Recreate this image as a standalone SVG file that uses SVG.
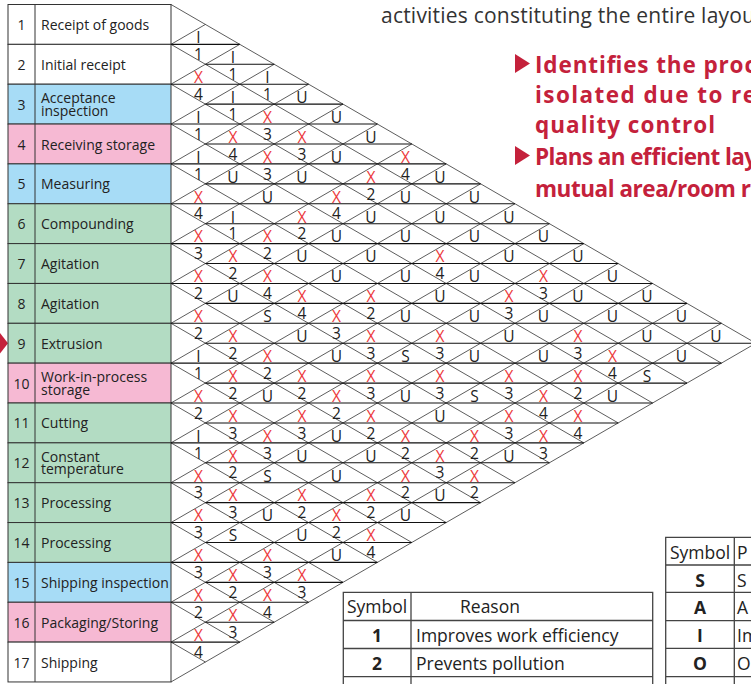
<svg xmlns="http://www.w3.org/2000/svg" width="751" height="684" viewBox="0 0 751 684">
<style>
.lab{font-family:"Open Sans","Noto Sans",sans-serif;font-size:14px;fill:#222}
.num{font-family:"Open Sans","Noto Sans",sans-serif;font-size:14px;fill:#222;text-anchor:middle}
.t{font-family:"Open Sans","Noto Sans",sans-serif;font-size:15.5px;fill:#222;text-anchor:middle}
.x{font-family:"Open Sans","Noto Sans",sans-serif;font-size:15.5px;fill:#ec3a3c;text-anchor:middle}
.cell{stroke:#333;stroke-width:1}
.w{fill:#ffffff}.b{fill:#a7dcf6}.p{fill:#f6b9d3}.g{fill:#b3dcc3}
.diag{fill:none;stroke:#333;stroke-width:0.8}
.hor{fill:none;stroke:#111;stroke-width:1.1}
.red{font-family:"Open Sans","Noto Sans",sans-serif;font-size:22.5px;font-weight:bold;fill:#c4213b}
.top{font-family:"Open Sans","Noto Sans",sans-serif;font-size:21px;fill:#333}
.tb{font-family:"Open Sans","Noto Sans",sans-serif;font-size:17.5px;fill:#222}
.tbb{font-family:"Open Sans","Noto Sans",sans-serif;font-size:17.5px;font-weight:bold;fill:#222;text-anchor:middle}
.tl{fill:none;stroke:#444;stroke-width:1.3}
</style>

<text class="top" x="381" y="22.7" textLength="374" lengthAdjust="spacing">activities constituting the entire layou</text>
<g id="notes">
<polygon points="515,54 530,63.5 515,73" fill="#c4213b"/>
<text class="red" x="535" y="72.7" textLength="221" lengthAdjust="spacing">Identifies the proc</text>
<text class="red" x="535" y="102.7" textLength="221" lengthAdjust="spacing">isolated due to re</text>
<text class="red" x="535" y="133" textLength="180" lengthAdjust="spacing">quality control</text>
<polygon points="515,146 530,155.5 515,165" fill="#c4213b"/>
<text class="red" x="535" y="165" textLength="222" lengthAdjust="spacing">Plans an efficient lay</text>
<text class="red" x="535" y="196.7" textLength="216" lengthAdjust="spacing">mutual area/room r</text>
</g>

<polygon id="marker-9" points="0,333 8,343.2 0,353.4" fill="#c4213b"/>

<g id="processes">
<g id="p1"><rect class="cell w" x="8" y="4.5" width="163" height="39.85"/><text class="num" x="21.5" y="29.9">1</text><text class="lab" x="41" y="29.9">Receipt of goods</text></g>
<g id="p2"><rect class="cell w" x="8" y="44.35" width="163" height="39.85"/><text class="num" x="21.5" y="69.8">2</text><text class="lab" x="41" y="69.8">Initial receipt</text></g>
<g id="p3"><rect class="cell b" x="8" y="84.2" width="163" height="39.85"/><text class="num" x="21.5" y="109.6">3</text><text class="lab" x="41" y="103.1">Acceptance</text><text class="lab" x="41" y="115.6">inspection</text></g>
<g id="p4"><rect class="cell p" x="8" y="124.05" width="163" height="39.85"/><text class="num" x="21.5" y="149.5">4</text><text class="lab" x="41" y="149.5">Receiving storage</text></g>
<g id="p5"><rect class="cell b" x="8" y="163.9" width="163" height="39.85"/><text class="num" x="21.5" y="189.3">5</text><text class="lab" x="41" y="189.3">Measuring</text></g>
<g id="p6"><rect class="cell g" x="8" y="203.75" width="163" height="39.85"/><text class="num" x="21.5" y="229.2">6</text><text class="lab" x="41" y="229.2">Compounding</text></g>
<g id="p7"><rect class="cell g" x="8" y="243.6" width="163" height="39.85"/><text class="num" x="21.5" y="269">7</text><text class="lab" x="41" y="269">Agitation</text></g>
<g id="p8"><rect class="cell g" x="8" y="283.45" width="163" height="39.85"/><text class="num" x="21.5" y="308.9">8</text><text class="lab" x="41" y="308.9">Agitation</text></g>
<g id="p9"><rect class="cell g" x="8" y="323.3" width="163" height="39.85"/><text class="num" x="21.5" y="348.7">9</text><text class="lab" x="41" y="348.7">Extrusion</text></g>
<g id="p10"><rect class="cell p" x="8" y="363.15" width="163" height="39.85"/><text class="num" x="21.5" y="388.6">10</text><text class="lab" x="41" y="382.1">Work-in-process</text><text class="lab" x="41" y="394.6">storage</text></g>
<g id="p11"><rect class="cell g" x="8" y="403" width="163" height="39.85"/><text class="num" x="21.5" y="428.4">11</text><text class="lab" x="41" y="428.4">Cutting</text></g>
<g id="p12"><rect class="cell g" x="8" y="442.85" width="163" height="39.85"/><text class="num" x="21.5" y="468.3">12</text><text class="lab" x="41" y="461.8">Constant</text><text class="lab" x="41" y="474.3">temperature</text></g>
<g id="p13"><rect class="cell g" x="8" y="482.7" width="163" height="39.85"/><text class="num" x="21.5" y="508.1">13</text><text class="lab" x="41" y="508.1">Processing</text></g>
<g id="p14"><rect class="cell g" x="8" y="522.55" width="163" height="39.85"/><text class="num" x="21.5" y="548">14</text><text class="lab" x="41" y="548">Processing</text></g>
<g id="p15"><rect class="cell b" x="8" y="562.4" width="163" height="39.85"/><text class="num" x="21.5" y="587.8">15</text><text class="lab" x="41" y="587.8">Shipping inspection</text></g>
<g id="p16"><rect class="cell p" x="8" y="602.25" width="163" height="39.85"/><text class="num" x="21.5" y="627.7">16</text><text class="lab" x="41" y="627.7">Packaging/Storing</text></g>
<g id="p17"><rect class="cell w" x="8" y="642.1" width="163" height="39.85"/><text class="num" x="21.5" y="667.5">17</text><text class="lab" x="41" y="667.5">Shipping</text></g>
<line x1="35" y1="4.5" x2="35" y2="681.95" stroke="#333" stroke-width="1"/>
</g>

<g id="connectors">
<path class="diag" d="M171,4.5 L755.8,343.225 L171,681.95
M171,44.35 L721.4,363.15 M171,84.2 L687,383.075 M171,124.05 L652.6,403 M171,163.9 L618.2,422.925
M171,203.75 L583.8,442.85 M171,243.6 L549.4,462.775 M171,283.45 L515,482.7 M171,323.3 L480.6,502.625
M171,363.15 L446.2,522.55 M171,403 L411.8,542.475 M171,442.85 L377.4,562.4 M171,482.7 L343,582.325
M171,522.55 L308.6,602.25 M171,562.4 L274.2,622.175 M171,602.25 L239.8,642.1 M171,642.1 L205.4,662.025
M171,44.35 L205.4,24.425 M171,84.2 L239.8,44.35 M171,124.05 L274.2,64.275 M171,163.9 L308.6,84.2
M171,203.75 L343,104.125 M171,243.6 L377.4,124.05 M171,283.45 L411.8,143.975 M171,323.3 L446.2,163.9
M171,363.15 L480.6,183.825 M171,403 L515,203.75 M171,442.85 L549.4,223.675 M171,482.7 L583.8,243.6
M171,522.55 L618.2,263.525 M171,562.4 L652.6,283.45 M171,602.25 L687,303.375 M171,642.1 L721.4,323.3"/>
<path class="hor" d="M171,44.35H239.8 M205.4,64.275H274.2 M171,84.2H308.6 M205.4,104.125H343 M171,124.05H377.4
M205.4,143.975H411.8 M171,163.9H446.2 M205.4,183.825H480.6 M171,203.75H515 M205.4,223.675H549.4
M171,243.6H583.8 M205.4,263.525H618.2 M171,283.45H652.6 M205.4,303.375H687 M171,323.3H721.4
M205.4,343.225H755.8 M171,363.15H721.4 M205.4,383.075H687 M171,403H652.6 M205.4,422.925H618.2
M171,442.85H583.8 M205.4,462.775H549.4 M171,482.7H515 M205.4,502.625H480.6 M171,522.55H446.2
M205.4,542.475H411.8 M171,562.4H377.4 M205.4,582.325H343 M171,602.25H308.6 M205.4,622.175H274.2
M171,642.1H239.8"/>
</g>

<g id="ratings">
<text class="t" x="198.5" y="43.2">I</text>
<text class="t" x="198.5" y="60">1</text><text class="t" x="233" y="63.1">I</text>
<text class="x" x="198.5" y="83">X</text><text class="t" x="233" y="79.9">1</text><text class="t" x="267.5" y="83">I</text>
<text class="t" x="198.5" y="99.8">4</text><text class="t" x="233" y="102.9">I</text><text class="t" x="267.5" y="99.8">1</text><text class="t" x="302" y="102.9">U</text>
<text class="t" x="198.5" y="122.9">I</text><text class="t" x="233" y="119.8">1</text><text class="x" x="267.5" y="122.9">X</text><text class="t" x="336.5" y="122.9">U</text>
<text class="t" x="198.5" y="139.7">1</text><text class="x" x="233" y="142.8">X</text><text class="t" x="267.5" y="139.7">3</text><text class="x" x="302" y="142.8">X</text><text class="t" x="371" y="142.8">U</text>
<text class="t" x="198.5" y="162.7">I</text><text class="t" x="233" y="159.6">4</text><text class="x" x="267.5" y="162.7">X</text><text class="t" x="302" y="159.6">3</text><text class="t" x="336.5" y="162.7">U</text><text class="x" x="405.5" y="162.7">X</text>
<text class="t" x="198.5" y="179.5">1</text><text class="t" x="233" y="182.6">U</text><text class="t" x="267.5" y="179.5">3</text><text class="t" x="302" y="182.6">U</text><text class="x" x="371" y="182.6">X</text><text class="t" x="405.5" y="179.5">4</text><text class="t" x="440" y="182.6">U</text>
<text class="x" x="198.5" y="202.6">X</text><text class="t" x="267.5" y="202.6">U</text><text class="x" x="336.5" y="202.6">X</text><text class="t" x="371" y="199.5">2</text><text class="t" x="405.5" y="202.6">U</text><text class="t" x="474.5" y="202.6">U</text>
<text class="t" x="198.5" y="219.4">4</text><text class="t" x="233" y="222.5">I</text><text class="x" x="302" y="222.5">X</text><text class="t" x="336.5" y="219.4">4</text><text class="t" x="371" y="222.5">U</text><text class="t" x="440" y="222.5">U</text><text class="t" x="509" y="222.5">U</text>
<text class="x" x="198.5" y="242.4">X</text><text class="t" x="233" y="239.3">1</text><text class="x" x="267.5" y="242.4">X</text><text class="t" x="302" y="239.3">2</text><text class="t" x="336.5" y="242.4">U</text><text class="t" x="405.5" y="242.4">U</text><text class="t" x="474.5" y="242.4">U</text><text class="t" x="543.5" y="242.4">U</text>
<text class="t" x="198.5" y="259.2">3</text><text class="x" x="233" y="262.3">X</text><text class="t" x="267.5" y="259.2">2</text><text class="t" x="302" y="262.3">U</text><text class="t" x="371" y="262.3">U</text><text class="x" x="440" y="262.3">X</text><text class="t" x="509" y="262.3">U</text><text class="t" x="578" y="262.3">U</text>
<text class="x" x="198.5" y="282.3">X</text><text class="t" x="233" y="279.2">2</text><text class="x" x="267.5" y="282.3">X</text><text class="t" x="336.5" y="282.3">U</text><text class="t" x="405.5" y="282.3">U</text><text class="t" x="440" y="279.2">4</text><text class="t" x="474.5" y="282.3">U</text><text class="x" x="543.5" y="282.3">X</text><text class="t" x="612.5" y="282.3">U</text>
<text class="t" x="198.5" y="299.1">2</text><text class="t" x="233" y="302.2">U</text><text class="t" x="267.5" y="299.1">4</text><text class="x" x="302" y="302.2">X</text><text class="x" x="371" y="302.2">X</text><text class="t" x="440" y="302.2">U</text><text class="x" x="509" y="302.2">X</text><text class="t" x="543.5" y="299.1">3</text><text class="t" x="578" y="302.2">U</text><text class="t" x="647" y="302.2">U</text>
<text class="x" x="198.5" y="322.1">X</text><text class="t" x="267.5" y="322.1">S</text><text class="t" x="302" y="319">4</text><text class="x" x="336.5" y="322.1">X</text><text class="t" x="371" y="319">2</text><text class="t" x="405.5" y="322.1">U</text><text class="t" x="474.5" y="322.1">U</text><text class="t" x="509" y="319">3</text><text class="t" x="543.5" y="322.1">U</text><text class="t" x="612.5" y="322.1">U</text><text class="t" x="681.5" y="322.1">U</text>
<text class="t" x="198.5" y="338.9">2</text><text class="x" x="233" y="342">X</text><text class="t" x="302" y="342">U</text><text class="t" x="336.5" y="338.9">3</text><text class="x" x="371" y="342">X</text><text class="x" x="440" y="342">X</text><text class="t" x="509" y="342">U</text><text class="x" x="578" y="342">X</text><text class="t" x="647" y="342">U</text><text class="t" x="716" y="342">U</text>
<text class="t" x="198.5" y="362">I</text><text class="t" x="233" y="358.9">2</text><text class="x" x="267.5" y="362">X</text><text class="t" x="336.5" y="362">U</text><text class="t" x="371" y="358.9">3</text><text class="t" x="405.5" y="362">S</text><text class="t" x="440" y="358.9">3</text><text class="t" x="474.5" y="362">U</text><text class="t" x="543.5" y="362">U</text><text class="t" x="578" y="358.9">3</text><text class="x" x="612.5" y="362">X</text><text class="t" x="681.5" y="362">U</text>
<text class="t" x="198.5" y="378.8">1</text><text class="x" x="233" y="381.9">X</text><text class="t" x="267.5" y="378.8">2</text><text class="x" x="302" y="381.9">X</text><text class="x" x="371" y="381.9">X</text><text class="x" x="440" y="381.9">X</text><text class="x" x="509" y="381.9">X</text><text class="x" x="578" y="381.9">X</text><text class="t" x="612.5" y="378.8">4</text><text class="t" x="647" y="381.9">S</text>
<text class="x" x="198.5" y="401.8">X</text><text class="t" x="233" y="398.7">2</text><text class="t" x="267.5" y="401.8">U</text><text class="t" x="302" y="398.7">2</text><text class="x" x="336.5" y="401.8">X</text><text class="t" x="371" y="398.7">3</text><text class="t" x="405.5" y="401.8">U</text><text class="t" x="440" y="398.7">3</text><text class="t" x="474.5" y="401.8">S</text><text class="t" x="509" y="398.7">3</text><text class="x" x="543.5" y="401.8">X</text><text class="t" x="578" y="398.7">2</text><text class="t" x="612.5" y="401.8">U</text>
<text class="t" x="198.5" y="418.6">2</text><text class="x" x="233" y="421.7">X</text><text class="x" x="302" y="421.7">X</text><text class="t" x="336.5" y="418.6">2</text><text class="x" x="371" y="421.7">X</text><text class="t" x="440" y="421.7">U</text><text class="x" x="509" y="421.7">X</text><text class="t" x="543.5" y="418.6">4</text><text class="x" x="578" y="421.7">X</text>
<text class="t" x="198.5" y="441.7">I</text><text class="t" x="233" y="438.6">3</text><text class="x" x="267.5" y="441.7">X</text><text class="t" x="302" y="438.6">3</text><text class="t" x="336.5" y="441.7">U</text><text class="t" x="371" y="438.6">2</text><text class="x" x="405.5" y="441.7">X</text><text class="x" x="474.5" y="441.7">X</text><text class="t" x="509" y="438.6">3</text><text class="x" x="543.5" y="441.7">X</text><text class="t" x="578" y="438.6">4</text>
<text class="t" x="198.5" y="458.5">1</text><text class="x" x="233" y="461.6">X</text><text class="t" x="267.5" y="458.5">3</text><text class="t" x="302" y="461.6">U</text><text class="t" x="371" y="461.6">U</text><text class="t" x="405.5" y="458.5">2</text><text class="x" x="440" y="461.6">X</text><text class="t" x="474.5" y="458.5">2</text><text class="t" x="509" y="461.6">U</text><text class="t" x="543.5" y="458.5">3</text>
<text class="x" x="198.5" y="481.5">X</text><text class="t" x="233" y="478.4">2</text><text class="t" x="267.5" y="481.5">S</text><text class="t" x="336.5" y="481.5">U</text><text class="x" x="405.5" y="481.5">X</text><text class="t" x="440" y="478.4">3</text><text class="x" x="474.5" y="481.5">X</text>
<text class="t" x="198.5" y="498.3">3</text><text class="x" x="233" y="501.4">X</text><text class="x" x="302" y="501.4">X</text><text class="x" x="371" y="501.4">X</text><text class="t" x="405.5" y="498.3">2</text><text class="t" x="440" y="501.4">U</text><text class="t" x="474.5" y="498.3">2</text>
<text class="x" x="198.5" y="521.4">X</text><text class="t" x="233" y="518.3">3</text><text class="t" x="267.5" y="521.4">U</text><text class="t" x="302" y="518.3">2</text><text class="x" x="336.5" y="521.4">X</text><text class="t" x="371" y="518.3">2</text><text class="t" x="405.5" y="521.4">U</text>
<text class="t" x="198.5" y="538.2">3</text><text class="t" x="233" y="541.3">S</text><text class="t" x="302" y="541.3">U</text><text class="t" x="336.5" y="538.2">2</text><text class="x" x="371" y="541.3">X</text>
<text class="x" x="198.5" y="561.2">X</text><text class="x" x="267.5" y="561.2">X</text><text class="t" x="336.5" y="561.2">U</text><text class="t" x="371" y="558.1">4</text>
<text class="t" x="198.5" y="578">3</text><text class="x" x="233" y="581.1">X</text><text class="t" x="267.5" y="578">3</text><text class="x" x="302" y="581.1">X</text>
<text class="x" x="198.5" y="601.1">X</text><text class="t" x="233" y="598">2</text><text class="x" x="267.5" y="601.1">X</text><text class="t" x="302" y="598">3</text>
<text class="t" x="198.5" y="617.9">2</text><text class="x" x="233" y="621">X</text><text class="t" x="267.5" y="617.9">4</text>
<text class="x" x="198.5" y="640.9">X</text><text class="t" x="233" y="637.8">3</text>
<text class="t" x="198.5" y="657.7">4</text>
</g>

<g id="reason-table">
<path class="tl" d="M343.3,700 V592.3 H652.7 V700 M411,592.3 V700 M343.3,620.5 H652.7 M343.3,648.5 H652.7 M343.3,676.7 H652.7"/>
<text class="tb" x="377" y="613.3" text-anchor="middle">Symbol</text>
<text class="tb" x="460" y="613.3">Reason</text>
<text class="tbb" x="377" y="641.5">1</text><text class="tb" x="416" y="641.5">Improves work efficiency</text>
<text class="tbb" x="377" y="669.8">2</text><text class="tb" x="416" y="669.8">Prevents pollution</text>
</g>

<g id="symbol-table">
<path class="tl" d="M665.7,700 V537.3 H760 M734.3,537.3 V700 M665.7,565 H760 M665.7,592.3 H760 M665.7,620.7 H760 M665.7,648.3 H760 M665.7,676.7 H760"/>
<text class="tb" x="700" y="559.3" text-anchor="middle">Symbol</text><text class="tb" x="737" y="559.3">P</text>
<text class="tbb" x="700" y="586.5">S</text><text class="tb" x="737" y="586.5">S</text>
<text class="tbb" x="700" y="614">A</text><text class="tb" x="737" y="614">A</text>
<text class="tbb" x="700" y="642">I</text><text class="tb" x="737" y="642">Im</text>
<text class="tbb" x="700" y="670">O</text><text class="tb" x="737" y="670">O</text>
</g>
</svg>
